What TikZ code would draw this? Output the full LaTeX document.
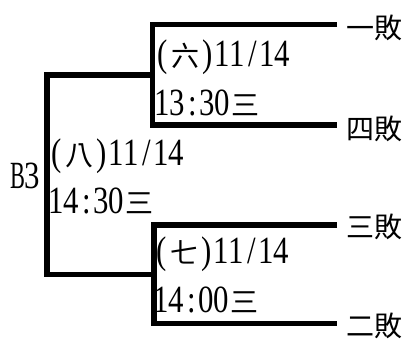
\documentclass[tikz,border=0pt]{standalone}
\usepackage{fontspec}
\usepackage{graphicx}
\setmainfont{Liberation Serif}
\newfontfamily\cjk{Noto Sans CJK TC}
\newcommand\hwc[2][0.8]{\makebox[15pt]{\scalebox{#1}[1]{\fontsize{38.5}{40}\selectfont #2}}}
\newcommand\fwc[1]{\makebox[30pt]{\cjk\fontsize{28}{30}\selectfont #1}}
\def\hws#1{\ifx\relax#1\else\hwc{#1}\expandafter\hws\fi}
\begin{document}
\begin{tikzpicture}[x=1pt,y=-1pt,
  bracket/.style={line width=5.5pt,line join=miter},
  lbl/.style={anchor=base west,inner sep=0pt,outer sep=0pt},
  team/.style={anchor=west,inner sep=0pt,outer sep=0pt,font=\cjk\fontsize{28}{30}\selectfont}]
\useasboundingbox (0,0) rectangle (404,338);
% junctions and line ends
\coordinate (m6) at (152.5,75);
\coordinate (m7) at (154,274.5);
\coordinate (m8) at (47,175);
\coordinate (e1) at (337,24.5);
\coordinate (e4) at (337,125);
\coordinate (e3) at (337,225);
\coordinate (e2) at (337,323.5);
% team labels
\node[team] (t1) at (346,28) {一敗};
\node[team] (t4) at (346,128.5) {四敗};
\node[team] (t3) at (346,226.5) {三敗};
\node[team] (t2) at (346,325.5) {二敗};
% brackets
\draw[bracket] (e1) -| (m6) |- (e4);
\draw[bracket] (e3) -| (m7) |- (e2);
\draw[bracket] (m6) -| (m8) |- (m7);
% match labels
\node[lbl] (d6) at (155,66.7) {\hwc{(}\fwc{六}\hws)11/14\relax};
\node[lbl] (s6) at (155,115) {\hws13:30\relax\fwc{三}};
\node[lbl] (d8) at (49,165) {\hwc{(}\fwc{八}\hws)11/14\relax};
\node[lbl] (s8) at (49,213) {\hws14:30\relax\fwc{三}};
\node[lbl] (d7) at (154,263) {\hwc{(}\fwc{七}\hws)11/14\relax};
\node[lbl] (s7) at (154,312) {\hws14:00\relax\fwc{三}};
\node[lbl] (b3) at (10,188) {\hwc[0.58]{B}\hwc{3}};
\end{tikzpicture}
\end{document}
